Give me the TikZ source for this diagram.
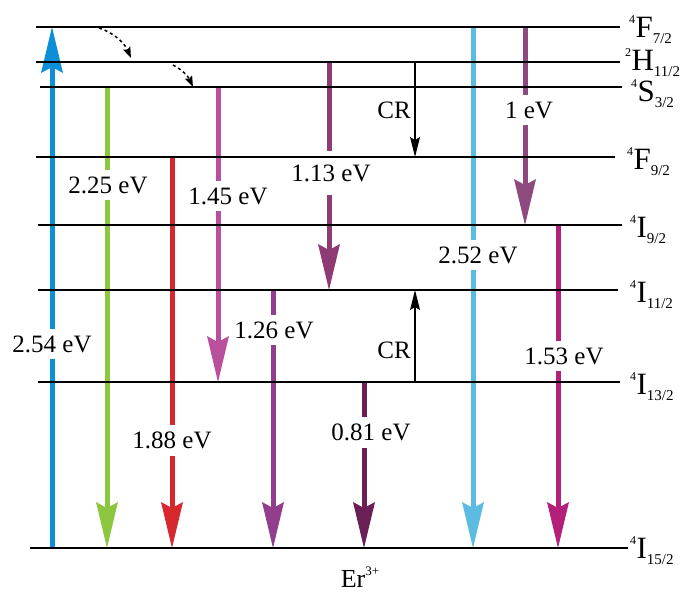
\documentclass[tikz,border=0pt]{standalone}
\usepackage{fontspec}
\setmainfont{Liberation Serif}
\usetikzlibrary{arrows.meta}
\definecolor{cBlue}{HTML}{0C8FD6}
\definecolor{cGreen}{HTML}{8DC63F}
\definecolor{cRed}{HTML}{D7282F}
\definecolor{cPink}{HTML}{B9509B}
\definecolor{cPurA}{HTML}{8E3B73}
\definecolor{cPurB}{HTML}{923E8D}
\definecolor{cDark}{HTML}{6A2057}
\definecolor{cLight}{HTML}{5BBBE0}
\definecolor{cPurC}{HTML}{8C4A7E}
\definecolor{cMag}{HTML}{B41F7A}
\newcommand{\lvllab}[3]{\raisebox{14pt}{\fontsize{12}{12}\selectfont #1}\kern0.3pt{\fontsize{31}{31}\selectfont #2}\raisebox{-6pt}{\fontsize{15}{16}\selectfont #3}}
\tikzset{
  bigarr/.style={line width=5pt, -{Stealth[length=46pt,width=22pt,inset=6pt,line width=0pt]}},
  lvl/.style={line width=1.4pt, black},
  evlab/.style={fill=white, inner xsep=2pt, inner ysep=7pt, font=\fontsize{25}{30}\selectfont},
  crarr/.style={line width=1.4pt, -{Stealth[length=20pt,width=10pt,inset=3pt,line width=0pt]}},
  relaxarr/.style={line width=1.5pt, dash pattern=on 3pt off 3pt, -{Stealth[length=11pt,width=8pt,inset=2pt,line width=0pt]}},
  lvllabel/.style={anchor=base west, inner sep=0pt},
}
\begin{document}
\begin{tikzpicture}[x=1pt,y=-1pt]
\useasboundingbox (0,0) rectangle (682,592);
% level end points
\coordinate (L1a) at (36,27);  \coordinate (L1b) at (620,27);
\coordinate (L2a) at (36,62);  \coordinate (L2b) at (620,62);
\coordinate (L3a) at (40,87);  \coordinate (L3b) at (622,87);
\coordinate (L4a) at (36,157); \coordinate (L4b) at (615,157);
\coordinate (L5a) at (38,225); \coordinate (L5b) at (622,225);
\coordinate (L6a) at (38,290); \coordinate (L6b) at (618,290);
\coordinate (L7a) at (38,382); \coordinate (L7b) at (620,382);
\coordinate (L8a) at (30,548); \coordinate (L8b) at (628,548);
% arrow end points
\coordinate (A1s) at (52,548);  \coordinate (A1e) at (52,27);
\coordinate (A2s) at (107,87);  \coordinate (A2e) at (107,548);
\coordinate (A3s) at (172,157); \coordinate (A3e) at (172,548);
\coordinate (A4s) at (218,87);  \coordinate (A4e) at (218,382);
\coordinate (A5s) at (329,62);  \coordinate (A5e) at (329,290);
\coordinate (A6s) at (273,290); \coordinate (A6e) at (273,548);
\coordinate (A7s) at (364,382); \coordinate (A7e) at (364,548);
\coordinate (A8s) at (473,27);  \coordinate (A8e) at (473,548);
\coordinate (A9s) at (525,27);  \coordinate (A9e) at (525,225);
\coordinate (A10s) at (558,225); \coordinate (A10e) at (558,548);
\coordinate (C1s) at (415,62);  \coordinate (C1e) at (415,157);
\coordinate (C2s) at (415,382); \coordinate (C2e) at (415,290);
\coordinate (D1s) at (99,28);   \coordinate (D1e) at (131,58);
\coordinate (D2s) at (173,65);  \coordinate (D2e) at (193,87);
% transitions
\draw[bigarr, cBlue]  (A1s) -- (A1e);
\draw[bigarr, cGreen] (A2s) -- (A2e);
\draw[bigarr, cRed]   (A3s) -- (A3e);
\draw[bigarr, cPink]  (A4s) -- (A4e);
\draw[bigarr, cPurA]  (A5s) -- (A5e);
\draw[bigarr, cPurB]  (A6s) -- (A6e);
\draw[bigarr, cDark]  (A7s) -- (A7e);
\draw[bigarr, cLight] (A8s) -- (A8e);
\draw[bigarr, cPurC]  (A9s) -- (A9e);
\draw[bigarr, cMag]   (A10s) -- (A10e);
\draw[crarr] (C1s) -- (C1e);
\draw[crarr] (C2s) -- (C2e);
\draw[relaxarr] (D1s) .. controls (112,32) and (124,42) .. (D1e);
\draw[relaxarr] (D2s) .. controls (181,69) and (188,76) .. (D2e);
% energy labels
\node[evlab] (e1) at (52,344) {2.54 eV};
\node[evlab] (e2) at (108,185) {2.25 eV};
\node[evlab] (e3) at (172,440) {1.88 eV};
\node[evlab] (e4) at (228,196) {1.45 eV};
\node[evlab, inner ysep=14pt] (e5) at (331,173) {1.13 eV};
\node[evlab] (e6) at (274,330) {1.26 eV};
\node[evlab] (e7) at (371,432) {0.81 eV};
\node[evlab] (e8) at (478,255) {2.52 eV};
\node[evlab] (e9) at (529,110) {1 eV};
\node[evlab] (e10) at (564,356) {1.53 eV};
\node[evlab, fill=none] (cr1) at (394,110) {CR};
\node[evlab, fill=none] (cr2) at (394,350) {CR};
% levels
\draw[lvl] (L1a) -- (L1b);
\draw[lvl] (L2a) -- (L2b);
\draw[lvl] (L3a) -- (L3b);
\draw[lvl] (L4a) -- (L4b);
\draw[lvl] (L5a) -- (L5b);
\draw[lvl] (L6a) -- (L6b);
\draw[lvl] (L7a) -- (L7b);
\draw[lvl] (L8a) -- (L8b);
% level labels
\node[lvllabel] (t1) at (629,37)  {\lvllab{4}{F}{7/2}};
\node[lvllabel] (t2) at (625,70)  {\lvllab{2}{H}{11/2}};
\node[lvllabel] (t3) at (631,101) {\lvllab{4}{S}{3/2}};
\node[lvllabel] (t4) at (627,169) {\lvllab{4}{F}{9/2}};
\node[lvllabel] (t5) at (630,237) {\lvllab{4}{I}{9/2}};
\node[lvllabel] (t6) at (630,302) {\lvllab{4}{I}{11/2}};
\node[lvllabel] (t7) at (630,394) {\lvllab{4}{I}{13/2}};
\node[lvllabel] (t8) at (630,558) {\lvllab{4}{I}{15/2}};
\node[anchor=base, inner sep=0pt] (ion) at (360,587) {{\fontsize{26}{26}\selectfont Er}\raisebox{12pt}{\fontsize{13}{13}\selectfont 3+}};
\end{tikzpicture}
\end{document}
